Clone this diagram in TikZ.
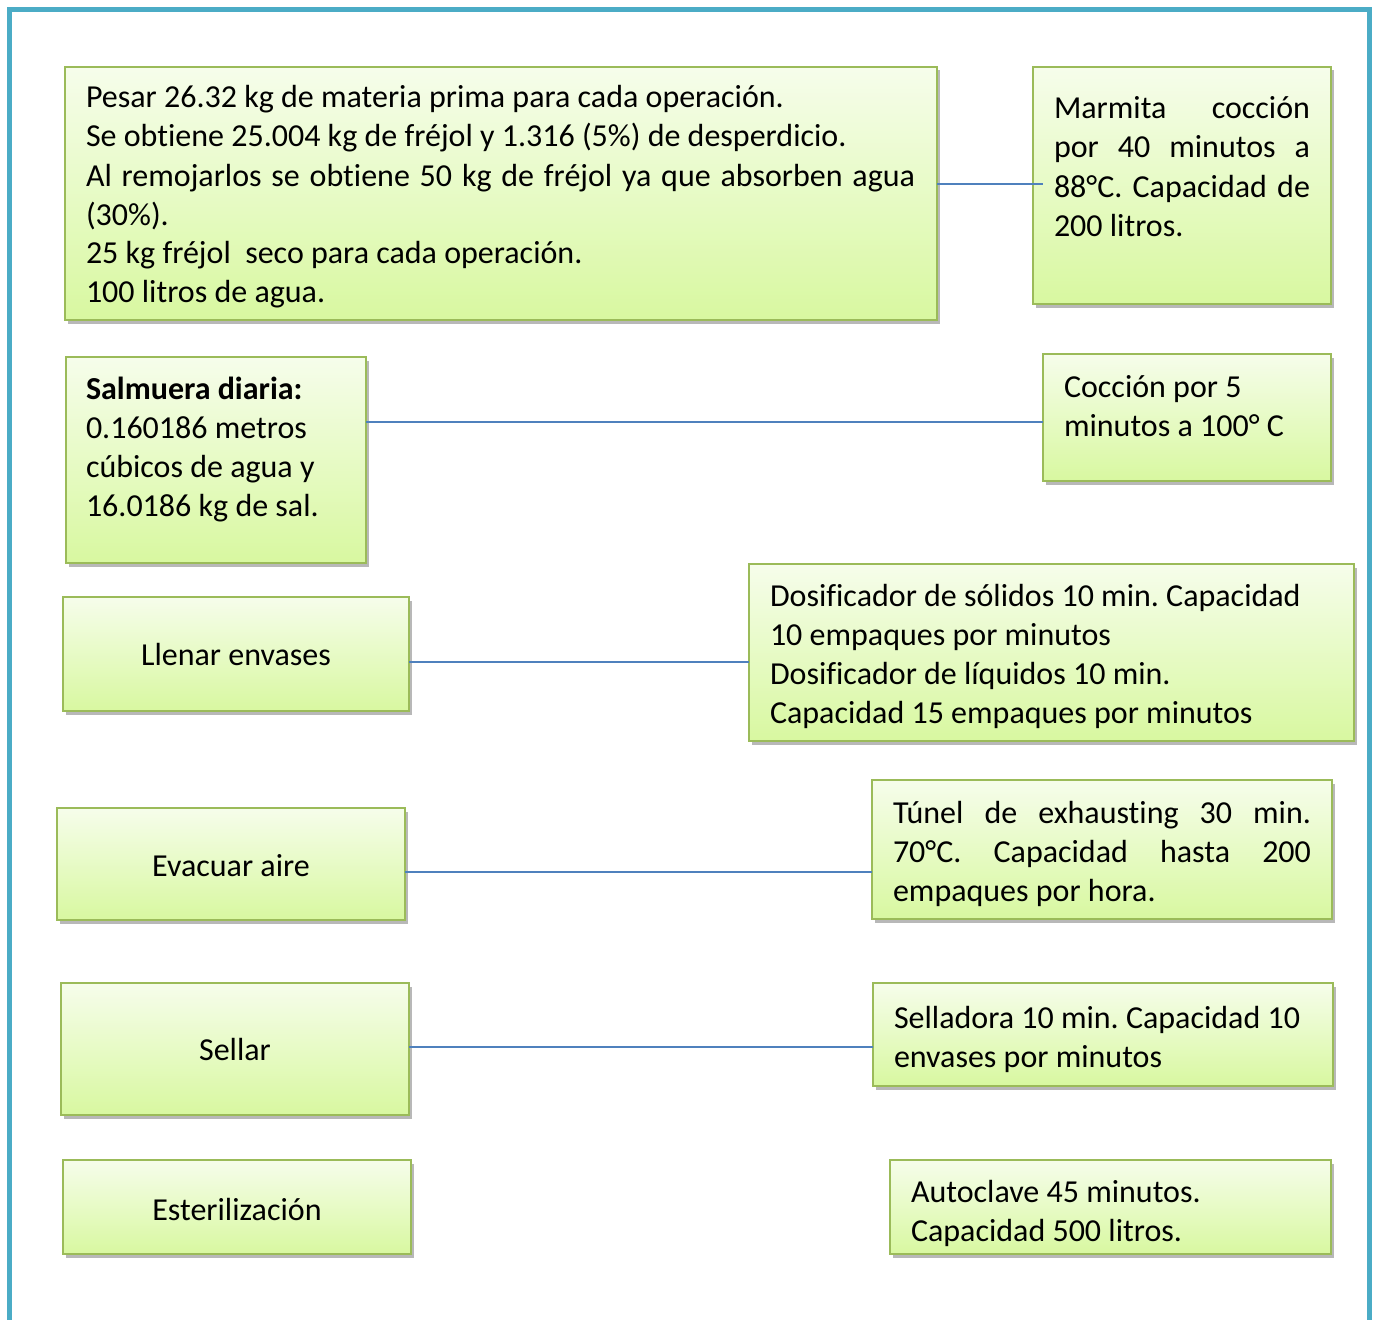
\documentclass[tikz,border=0pt]{standalone}
\usepackage{fontspec}
\setmainfont{Carlito}[Ligatures=NoCommon]
\usetikzlibrary{shadows,calc}
\frenchspacing

\definecolor{framecol}{RGB}{75,172,198}
\definecolor{panelrim}{RGB}{155,187,89}
\definecolor{paneltop}{RGB}{246,253,235}
\definecolor{panelbot}{RGB}{216,248,160}
\definecolor{linkcol}{RGB}{79,129,189}

\tikzset{
  panel/.style={rectangle, draw=panelrim, line width=2pt, inner sep=0pt, outer sep=0pt,
    top color=paneltop, bottom color=panelbot,
    drop shadow={shadow xshift=2.5pt, shadow yshift=-3.5pt, fill=black, opacity=0.28}},
  txt/.style={inner sep=0pt, outer sep=0pt, font=\fontsize{32}{39}\selectfont},
  link/.style={draw=linkcol, line width=1.6pt},
}

% box by corner pixels: name, x1, y1, x2, y2
\newcommand\panelbox[5]{%
  \node[panel, minimum width={#4-#2}, minimum height={#5-#3}] (#1) at ({(#2+#4)/2},{(#3+#5)/2}) {};}

\begin{document}
\begin{tikzpicture}[x=1pt, y=-1pt]
\useasboundingbox (0,0) rectangle (1375,1319);

% outer frame, open at the bottom
\draw[framecol, line width=5pt] (9.5,1325) -- (9.5,10) -- (1369.5,10) -- (1369.5,1325);

% panels
\panelbox{pesar}{65}{67}{937}{320}
\panelbox{marmita}{1033}{67}{1331}{304}
\panelbox{salmuera}{66}{357}{366}{563}
\panelbox{coccion}{1043}{354}{1331}{481}
\panelbox{llenar}{63}{597}{409}{711}
\panelbox{dosif}{749}{564}{1354}{741}
\panelbox{evacuar}{57}{808}{405}{920}
\panelbox{tunel}{872}{780}{1332}{919}
\panelbox{sellar}{61}{983}{409}{1115}
\panelbox{selladora}{873}{983}{1333}{1086}
\panelbox{esteril}{63}{1160}{411}{1254}
\panelbox{autoclave}{890}{1160}{1331}{1254}

% texts
\node[txt, anchor=base west] (pesar-t) at (86,108) {\parbox[t]{829pt}{%
Pesar 26.32 kg de materia prima para cada operación.\\
Se obtiene 25.004 kg de fréjol y 1.316 (5\%) de desperdicio.\\
Al remojarlos se obtiene 50 kg de fréjol ya que absorben agua\linebreak
(30\%).\\
25 kg fréjol\ \ seco para cada operación.\\
100 litros de agua.}};

\node[txt, anchor=base west] (marmita-t) at (1054,119) {\parbox[t]{256pt}{%
Marmita cocción\linebreak por 40 minutos a\linebreak 88°C. Capacidad de\linebreak 200 litros.}};

\node[txt, anchor=base west] (salmuera-t) at (86,399) {\parbox[t]{270pt}{\raggedright
\textbf{Salmuera diaria:}\\
0.160186 metros\\
cúbicos de agua y\\
16.0186 kg de sal.}};

\node[txt, anchor=base west] (coccion-t) at (1064,397) {\parbox[t]{260pt}{\raggedright
Cocción por 5\\
minutos a 100° C}};

\node[txt, anchor=base] (llenar-t) at (236,665) {Llenar envases};

\node[txt, anchor=base west] (dosif-t) at (770,606) {\parbox[t]{580pt}{\raggedright
Dosificador de sólidos 10 min. Capacidad\\
10 empaques por minutos\\
Dosificador de líquidos 10 min.\\
Capacidad 15 empaques por minutos}};

\node[txt, anchor=base] (evacuar-t) at (231,876) {Evacuar aire};

\node[txt, anchor=base west] (tunel-t) at (893,823) {\parbox[t]{418pt}{%
Túnel de exhausting 30 min.\linebreak 70°C. Capacidad hasta 200\linebreak empaques por hora.}};

\node[txt, anchor=base] (sellar-t) at (235,1060) {Sellar};

\node[txt, anchor=base west] (selladora-t) at (894,1028) {\parbox[t]{430pt}{\raggedright
Selladora 10 min. Capacidad 10\\
envases por minutos}};

\node[txt, anchor=base] (esteril-t) at (237,1220) {Esterilización};

\node[txt, anchor=base west] (autoclave-t) at (911,1202) {\parbox[t]{410pt}{\raggedright
Autoclave 45 minutos.\\
Capacidad 500 litros.}};

% connectors
\draw[link] ([yshift=1.5pt]marmita.west -| pesar.east) -- ([xshift=10pt,yshift=1.5pt]marmita.west);
\draw[link] ([yshift=-4.5pt]coccion.west -| salmuera.east) -- ([yshift=-4.5pt]coccion.west);
\draw[link] ([yshift=-8pt]llenar.east) -- ([yshift=-8pt]llenar.east -| dosif.west);
\draw[link] ([yshift=-8pt]evacuar.east) -- ([yshift=-8pt]evacuar.east -| tunel.west);
\draw[link] ([yshift=2pt]sellar.east) -- ([yshift=2pt]sellar.east -| selladora.west);
\end{tikzpicture}
\end{document}
